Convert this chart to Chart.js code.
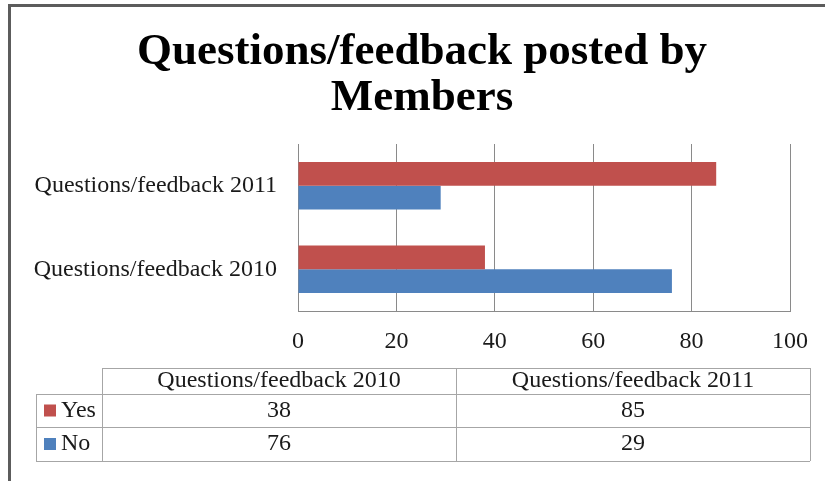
<!DOCTYPE html>
<html>
<head>
<meta charset="utf-8">
<script src="https://cdn.jsdelivr.net/npm/chart.js@4"></script>
<style>
  html, body { margin: 0; padding: 0; background: #fff; }
  canvas { display: block; }
</style>
</head>
<body>
<canvas id="feedbackChart" width="825" height="481"></canvas>
<script>
const categories = ['Questions/feedback 2010', 'Questions/feedback 2011'];
const seriesNames = ['Yes', 'No'];
const yesValues = [38, 85];
const noValues = [76, 29];
const xTicks = [0, 20, 40, 60, 80, 100];
const titleLines = ['Questions/feedback posted by', 'Members'];

const RED = '#C0504D';
const BLUE = '#4F81BD';
const GRID = '#8a8a8a';
const TABLE_LINE = '#a6a6a6';
const SERIF = '"Liberation Serif", "Times New Roman", serif';

// frame, title (centred on the page, not on the chart box) and the data table
const frameAndTable = {
    id: 'frameAndTable',
    afterDraw(chart) {
        const ctx = chart.ctx;
        ctx.save();

        ctx.fillStyle = '#5c5c5c';
        ctx.fillRect(8, 4, 3, 477);
        ctx.fillRect(8, 4, 817, 3);

        ctx.fillStyle = '#000';
        ctx.font = 'bold 45px ' + SERIF;
        ctx.textAlign = 'center';
        ctx.textBaseline = 'middle';
        titleLines.forEach((line, i) => ctx.fillText(line, 422, 52 + i * 46));

        const colX = [36, 102, 456, 810];
        const rowY = [368, 394, 427, 461];
        const rows = [
            { name: seriesNames[0], color: RED, values: yesValues },
            { name: seriesNames[1], color: BLUE, values: noValues }
        ];

        ctx.strokeStyle = TABLE_LINE;
        ctx.lineWidth = 1;
        ctx.beginPath();
        // header row (no cell above the legend column)
        ctx.moveTo(colX[1], rowY[0] + 0.5); ctx.lineTo(colX[3], rowY[0] + 0.5);
        for (let r = 1; r < rowY.length; r++) {
            ctx.moveTo(colX[0], rowY[r] + 0.5); ctx.lineTo(colX[3], rowY[r] + 0.5);
        }
        ctx.moveTo(colX[0] + 0.5, rowY[1]); ctx.lineTo(colX[0] + 0.5, rowY[3]);
        for (let c = 1; c < colX.length; c++) {
            ctx.moveTo(colX[c] + 0.5, rowY[0]); ctx.lineTo(colX[c] + 0.5, rowY[3]);
        }
        ctx.stroke();

        ctx.font = '24px ' + SERIF;
        ctx.fillStyle = '#1a1a1a';
        ctx.textAlign = 'center';
        categories.forEach((cat, i) => {
            ctx.fillText(cat, (colX[i + 1] + colX[i + 2]) / 2, (rowY[0] + rowY[1]) / 2);
        });

        rows.forEach((row, r) => {
            const top = rowY[r + 1], bottom = rowY[r + 2];
            const mid = (top + bottom) / 2;
            ctx.fillStyle = row.color;
            ctx.fillRect(colX[0] + 8, mid - 6, 12, 12);
            ctx.fillStyle = '#1a1a1a';
            ctx.textAlign = 'left';
            ctx.fillText(row.name, colX[0] + 25, mid);
            ctx.textAlign = 'center';
            row.values.forEach((v, i) => {
                ctx.fillText(String(v), (colX[i + 1] + colX[i + 2]) / 2, mid);
            });
        });

        ctx.restore();
    }
};

new Chart(document.getElementById('feedbackChart'), {
    type: 'bar',
    data: {
        labels: categories,
        datasets: [
            { label: seriesNames[0], data: yesValues, backgroundColor: RED },
            { label: seriesNames[1], data: noValues, backgroundColor: BLUE }
        ]
    },
    options: {
        indexAxis: 'y',
        responsive: false,
        animation: false,
        events: [],
        categoryPercentage: 0.566,
        barPercentage: 1,
        layout: { padding: { left: 0, right: 35, top: 144, bottom: 130 } },
        plugins: {
            legend: { display: false },
            tooltip: { enabled: false },
            title: { display: false }
        },
        scales: {
            x: {
                min: 0,
                max: 100,
                afterBuildTicks: (scale) => { scale.ticks = xTicks.map(v => ({ value: v })); },
                afterFit: (scale) => { scale.height = 40; },
                grid: { color: GRID, drawTicks: false },
                border: { color: GRID },
                ticks: { color: '#1a1a1a', padding: 16, font: { family: SERIF, size: 24 } }
            },
            y: {
                reverse: true,
                afterFit: (scale) => { scale.width = 298; },
                grid: { display: false, drawTicks: false },
                border: { color: GRID },
                ticks: { color: '#1a1a1a', padding: 21, font: { family: SERIF, size: 24 } }
            }
        }
    },
    plugins: [frameAndTable]
});
</script>
</body>
</html>
